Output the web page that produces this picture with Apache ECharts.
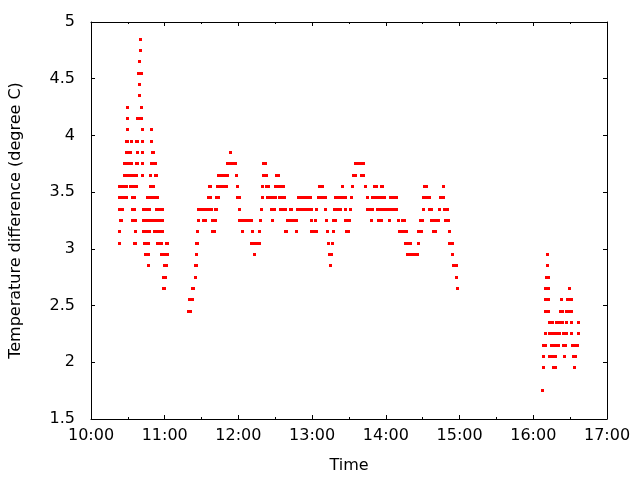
<!DOCTYPE html>
<html>
<head>
<meta charset="utf-8">
<script src="https://cdn.jsdelivr.net/npm/echarts@6/dist/echarts.min.js"></script>
<style>html,body{margin:0;padding:0;background:#fff}#c{width:640px;height:480px}</style>
</head>
<body>
<div id="c"></div>
<script>
// Time axis: minutes after 10:00
const timeTickLabels = ['10:00','11:00','12:00','13:00','14:00','15:00','16:00','17:00'];
const yTicks = [1.5, 2, 2.5, 3, 3.5, 4, 4.5, 5];

// Runs of constant readings: [temperature difference, first sample (min after 10:00), last sample]
const morningRuns = [
  [4.85,40.2,40.2],[4.75,40.2,40.2],[4.65,39.8,39.8],[4.55,39.0,40.7],[4.45,39.4,39.4],[4.35,39.4,39.4],
  [4.25,30.1,30.1],[4.25,41.1,41.1],
  [4.15,30.1,30.1],[4.15,38.2,41.5],
  [4.05,30.1,30.1],[4.05,42.3,42.3],[4.05,49.6,49.6],
  [3.95,29.3,30.1],[3.95,33.3,33.3],[3.95,37.4,38.2],[3.95,42.3,42.3],[3.95,49.6,49.6],
  [3.85,29.3,32.5],[3.85,37.8,37.8],[3.85,42.3,42.3],[3.85,50.4,51.2],
  [3.75,27.6,33.3],[3.75,37.4,38.2],[3.75,42.3,42.3],[3.75,49.6,52.8],
  [3.65,27.6,37.4],[3.65,42.3,42.3],[3.65,48.8,48.8],[3.65,52.8,53.7],
  [3.55,23.6,29.3],[3.55,32.5,37.4],[3.55,48.8,51.2],
  [3.45,22.8,28.5],[3.45,34.1,35.8],[3.45,46.3,54.5],
  [3.35,23.6,26.0],[3.35,34.1,35.8],[3.35,43.1,48.0],[3.35,53.7,58.5],
  [3.25,24.4,25.2],[3.25,34.1,36.6],[3.25,43.1,58.5],
  [3.15,23.6,23.6],[3.15,36.6,36.6],[3.15,43.1,48.0],[3.15,52.0,58.5],
  [3.05,23.6,23.6],[3.05,35.8,36.6],[3.05,43.9,47.2],[3.05,54.5,57.7],[3.05,61.8,62.6],
  [2.95,44.7,47.2],[2.95,57.7,62.6],
  [2.85,47.2,47.2],[2.85,60.2,61.8],
  [2.75,59.3,61.0],
  [2.65,59.3,60.2]
];

const middayRuns = [
  [2.45,79.7,81.3],[2.55,80.5,83.0],[2.65,82.5,83.3],[2.75,85.0,85.0],[2.85,85.4,86.2],[2.95,86.2,86.2],
  [3.05,86.2,87.0],[3.15,87.0,87.0],[3.15,99.2,100.8],
  [3.25,87.8,87.8],[3.25,91.9,93.5],[3.25,99.2,101.6],
  [3.35,87.8,98.4],[3.35,101.6,102.4],
  [3.45,95.9,97.6],[3.45,102.4,104.1],
  [3.55,96.8,97.6],[3.55,103.3,110.6],
  [3.65,104.1,111.4],
  [3.75,111.4,117.9],
  [3.85,113.9,113.9],
  [3.65,118.3,118.3],[3.55,119.5,119.5],[3.45,119.5,121.1],[3.35,121.1,121.1],[3.25,121.1,130.9],
  [3.15,123.1,123.1],[3.15,131.1,131.1],[3.15,137.4,137.4],[3.15,158.6,159.4],[3.15,167.1,167.1],
  [3.05,130.9,137.4],
  [2.95,133.0,133.0],
  [3.25,137.8,137.8],[3.25,148.0,148.0],[3.25,160.2,167.5],
  [3.35,138.6,138.6],[3.35,147.2,149.6],[3.35,154.5,158.6],[3.35,162.6,163.4],[3.35,168.3,177.7],
  [3.45,139.4,139.4],[3.45,143.9,150.4],[3.45,153.7,157.7],[3.45,169.1,177.7],
  [3.55,139.8,139.8],[3.55,143.1,144.7],[3.55,150.4,157.0],
  [3.65,140.7,143.1],[3.65,151.2,152.8],
  [3.75,140.7,142.3]
];

const afternoonRuns = [
  [3.75,215.5,222.0],
  [3.65,213.8,215.5],[3.65,220.3,222.0],
  [3.55,186.2,188.6],[3.55,204.7,204.7],[3.55,212.8,212.8],[3.55,223.2,223.2],[3.55,230.9,232.5],
  [3.55,236.6,237.4],[3.55,271.6,273.2],[3.55,286.6,286.6],
  [3.45,171.6,178.9],[3.45,185.4,191.1],[3.45,199.2,207.3],[3.45,211.8,211.8],[3.45,224.8,224.8],
  [3.45,229.3,239.0],[3.45,243.9,248.8],[3.45,270.8,275.6],[3.45,284.6,287.0],
  [3.35,171.6,179.7],[3.35,183.4,183.4],[3.35,191.1,191.1],[3.35,198.4,203.2],[3.35,207.3,207.3],
  [3.35,211.0,211.0],[3.35,225.2,229.3],[3.35,233.4,236.6],[3.35,239.0,248.8],[3.35,270.4,270.4],
  [3.35,275.6,277.3],[3.35,283.8,283.8],[3.35,287.8,290.3],
  [3.25,179.7,179.7],[3.25,183.0,183.0],[3.25,191.5,191.5],[3.25,197.6,199.2],[3.25,207.3,210.5],
  [3.25,228.1,228.1],[3.25,234.2,236.6],[3.25,242.7,242.7],[3.25,250.0,250.0],[3.25,253.7,255.3],
  [3.25,268.3,270.0],[3.25,277.3,282.9],[3.25,288.7,291.1],
  [3.15,179.7,183.4],[3.15,192.7,192.7],[3.15,197.2,197.2],[3.15,208.2,209.7],[3.15,251.2,256.9],
  [3.15,266.7,269.1],[3.15,278.9,280.5],[3.15,291.5,291.5],
  [3.05,193.5,193.5],[3.05,196.8,196.8],[3.05,256.1,260.2],[3.05,266.3,266.3],[3.05,291.9,294.3],
  [2.95,194.3,196.0],[2.95,257.8,265.9],[2.95,294.0,294.0],
  [2.85,194.7,194.7],[2.85,295.2,297.6],
  [2.75,297.6,297.6],
  [2.65,298.4,298.4]
];

const lateRuns = [
  [2.95,371.6,371.6],[2.85,371.2,371.2],[2.75,370.8,372.4],
  [2.65,370.0,372.4],[2.65,389.8,389.8],
  [2.55,370.0,372.4],[2.55,383.3,383.3],[2.55,387.9,391.2],
  [2.45,370.0,372.4],[2.45,382.2,383.8],[2.45,387.0,391.2],
  [2.35,373.2,375.6],[2.35,378.9,383.8],[2.35,387.4,387.4],[2.35,391.5,391.5],[2.35,396.4,396.4],
  [2.25,369.9,369.9],[2.25,373.2,381.3],[2.25,384.6,387.1],[2.25,391.1,391.1],[2.25,396.4,396.4],
  [2.15,368.3,369.9],[2.15,374.8,380.5],[2.15,384.6,386.3],[2.15,391.9,395.9],
  [2.05,368.7,368.7],[2.05,373.2,378.1],[2.05,385.4,385.4],[2.05,392.7,394.4],
  [1.95,368.3,368.3],[1.95,376.5,378.1],[1.95,393.5,393.5],
  [1.75,367.5,367.5]
];

const allRuns = morningRuns.concat(middayRuns, afternoonRuns, lateRuns);

const chart = echarts.init(document.getElementById('c'), null, {renderer: 'canvas'});
const FONT = 'DejaVu Sans';
const axisCommon = {
  axisLine: {show: true, onZero: false, lineStyle: {color: '#000', width: 1}},
  splitLine: {show: false}
};
chart.setOption({
  animation: false,
  backgroundColor: '#fff',
  grid: {left: 90, right: 33, top: 22, bottom: 61},
  xAxis: [
    Object.assign({
      type: 'value', min: 0, max: 420, interval: 60, position: 'bottom',
      name: 'Time', nameLocation: 'middle', nameGap: 39,
      nameTextStyle: {fontFamily: FONT, fontSize: 16, color: '#000'},
      axisTick: {show: true, inside: true, length: 4, lineStyle: {color: '#000'}},
      minorTick: {show: true, splitNumber: 2, length: 2, lineStyle: {color: '#000'}},
      axisLabel: {fontFamily: FONT, fontSize: 16, color: '#000', margin: 9,
        formatter: v => timeTickLabels[Math.round(v / 60)]}
    }, axisCommon),
    Object.assign({
      type: 'value', min: 0, max: 420, interval: 60, position: 'top',
      axisTick: {show: true, inside: true, length: 4, lineStyle: {color: '#000'}},
      minorTick: {show: true, splitNumber: 2, length: 2, lineStyle: {color: '#000'}},
      axisLabel: {show: false}
    }, axisCommon)
  ],
  yAxis: [
    Object.assign({
      type: 'value', min: yTicks[0], max: yTicks[yTicks.length - 1], interval: 0.5, position: 'left',
      name: 'Temperature difference (degree C)', nameLocation: 'middle', nameGap: 67,
      nameTextStyle: {fontFamily: FONT, fontSize: 16, color: '#000'},
      axisTick: {show: true, inside: true, length: 4, lineStyle: {color: '#000'}},
      axisLabel: {fontFamily: FONT, fontSize: 16, color: '#000', margin: 16,
        formatter: v => String(+v.toFixed(1))}
    }, axisCommon),
    Object.assign({
      type: 'value', min: yTicks[0], max: yTicks[yTicks.length - 1], interval: 0.5, position: 'right',
      axisTick: {show: true, inside: true, length: 4, lineStyle: {color: '#000'}},
      axisLabel: {show: false}
    }, axisCommon)
  ],
  series: [{
    type: 'custom',
    xAxisIndex: 0, yAxisIndex: 0,
    data: allRuns,
    encode: {x: [1, 2], y: 0},
    renderItem: function (params, api) {
      const v = api.value(0);
      const p1 = api.coord([api.value(1), v]);
      const p2 = api.coord([api.value(2), v]);
      const x = Math.round(p1[0] - 1.5);
      const w = Math.max(3, Math.round(p2[0] + 1.5) - x);
      return {
        type: 'rect',
        shape: {x: x, y: Math.round(p1[1] - 1.5), width: w, height: 3},
        style: {fill: '#ff0000'}
      };
    }
  }]
});
</script>
</body>
</html>
